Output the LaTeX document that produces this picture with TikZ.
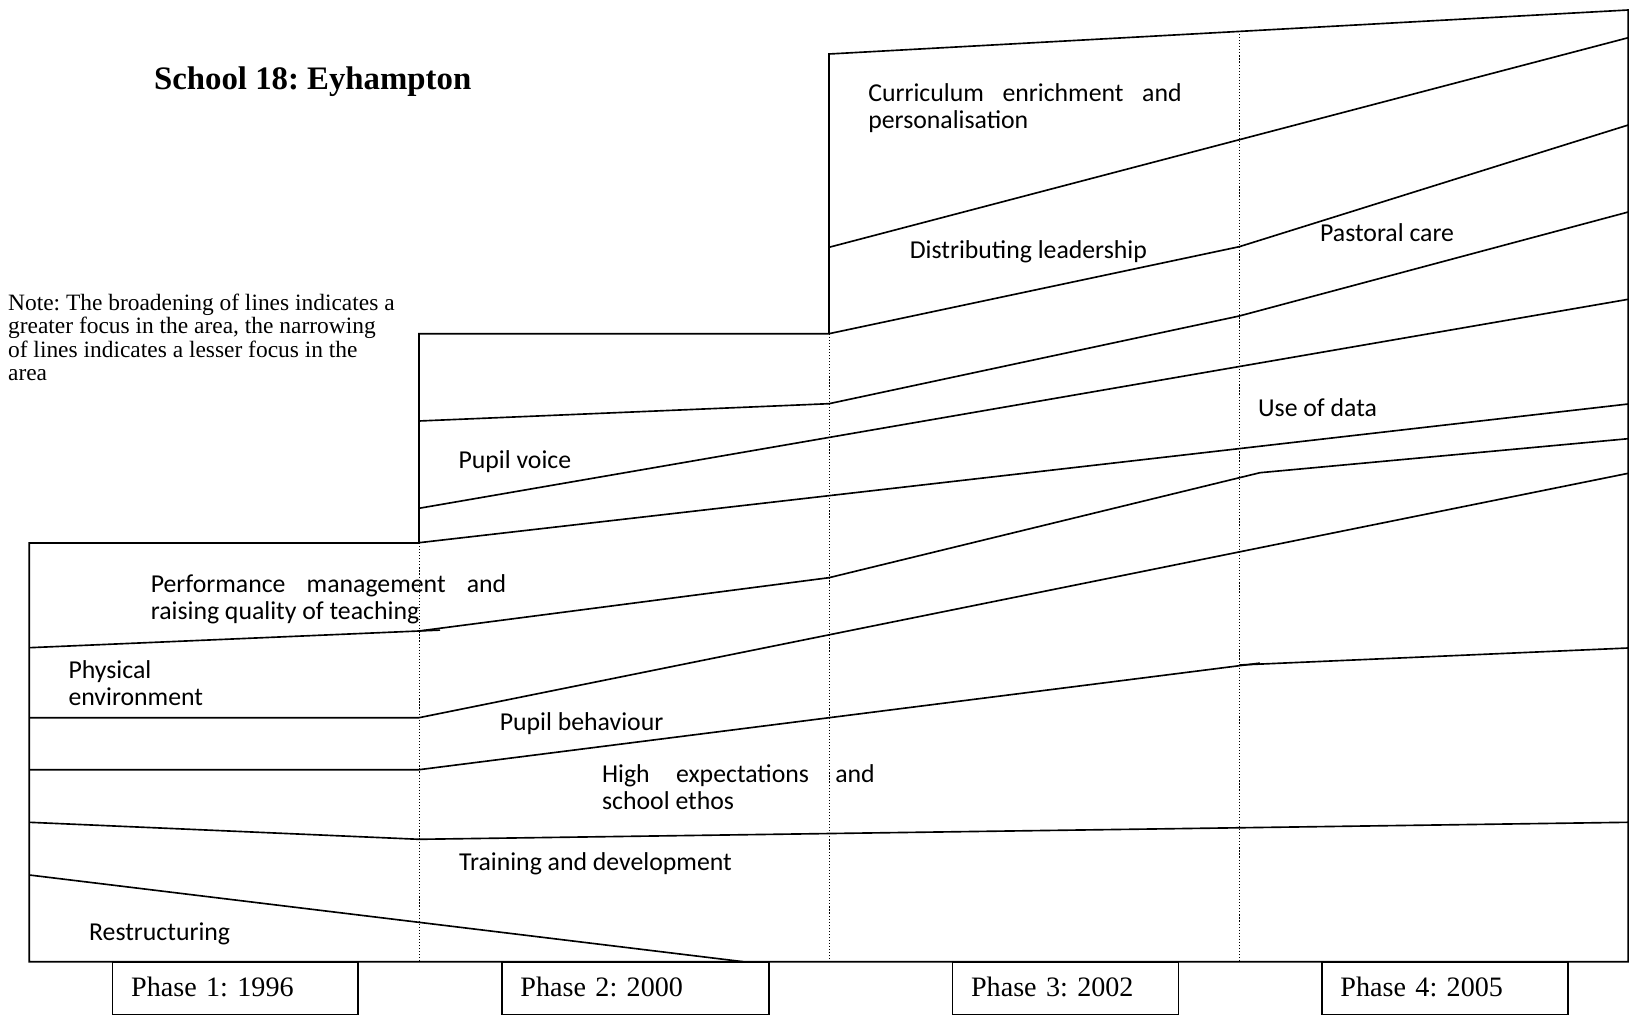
\documentclass[tikz,border=0pt]{standalone}
\usepackage{fontspec}
\setmainfont{Liberation Serif}
\newfontfamily\calibri{Carlito}
\frenchspacing
\tikzset{
  band/.style={font=\calibri\fontsize{11}{11.4}\selectfont, anchor=base west, inner sep=0pt, align=left, yshift=-1pt},
  phase/.style={draw, anchor=north west, minimum height=0.78cm, inner xsep=0.28cm, text depth=1.7pt, align=left, font=\fontsize{12}{14}\selectfont},
  divider/.style={line width=0.4pt, dash pattern=on 0.5pt off 0.8pt}
}
\begin{document}
\begin{tikzpicture}[x=0.015cm, y=-0.015cm, line width=0.7pt]
    \useasboundingbox (0,0) rectangle (1629,1016);
    %frame
    \draw (29.3,961.7) -- (29.3,543) -- (419,543) -- (419,333.7) -- (829,333.7) -- (829,54) -- (1628.3,10) -- (1628.3,961.7) -- cycle;
    %phase borders
    \draw[divider] (419,543)    -- (419,961.7);
    \draw[divider] (829,333.7)  -- (829,961.7);
    \draw[divider] (1239.3,31)  -- (1239.3,961.7);
    %bands
    \draw (829,247.3) -- (1628.3,37.7);
    \draw (829,333.7) -- (1239.3,246.7) -- (1628.3,125);
    \draw (419,421)   -- (829,403.7) -- (1239.3,316) -- (1628.3,212);
    \draw (419,508.3) -- (1628.3,299.3);
    \draw (419,542.7) -- (1628.3,404);
    \draw (29.3,647.7) -- (440,630.1);
    \draw (419,631)   -- (829,577.7) -- (1260,472.7) -- (1628.3,438.7);
    \draw (29.3,717.7) -- (419,717.7) -- (1628.3,473.3);
    \draw (29.3,769.7) -- (419,769.7) -- (1260,663.1);
    \draw (1239.3,665) -- (1628.3,648);
    \draw (29.3,822.3) -- (419,839.3) -- (1628.3,822.3);
    \draw (29.3,875)   -- (743.3,961.7);
    %labels (base = last line)
    \node[band] (curr) at (867.5,126)  {\makebox[4.7cm][s]{Curriculum enrichment and}\\personalisation};
    \node[band] (lead) at (909,256)    {Distributing leadership};
    \node[band] (past) at (1319.3,239) {Pastoral care};
    \node[band] (voice) at (457.7,466) {Pupil voice};
    \node[band] (data) at (1257.3,414) {Use of data};
    \node[band] (perf) at (150,616.7)  {\makebox[5.33cm][s]{Performance management and}\\raising quality of teaching};
    \node[band] (phys) at (67.7,703)   {Physical\\environment};
    \node[band] (behav) at (499,727.7) {Pupil behaviour};
    \node[band] (high) at (601.3,807)  {\makebox[4.09cm][s]{High expectations and}\\school ethos};
    \node[band] (train) at (458.3,867.7) {Training and development};
    \node[band] (restr) at (88.3,938)  {Restructuring};
    %title and note
    \node[anchor=base west, inner sep=0pt, font=\bfseries\fontsize{14}{16}\selectfont] (title) at (153.3,90) {School 18: Eyhampton};
    \node[anchor=base west, inner sep=0pt, align=left, font=\fontsize{10}{10}\selectfont] (note) at (7.3,380.7)
        {Note: The broadening of lines indicates a\\greater focus in the area, the narrowing\\of lines indicates a lesser focus in the\\area};
    %phases
    \node[phase, text width=3.124cm] (p1) at (111.7,961.7) {Phase 1: 1996};
    \node[phase, text width=3.45cm]  (p2) at (501,961.7)   {Phase 2: 2000};
    \node[phase, text width=2.83cm]  (p3) at (951.6,961.7) {Phase 3: 2002};
    \node[phase, text width=3.135cm] (p4) at (1321,961.7)  {Phase 4: 2005};
\end{tikzpicture}
\end{document}
